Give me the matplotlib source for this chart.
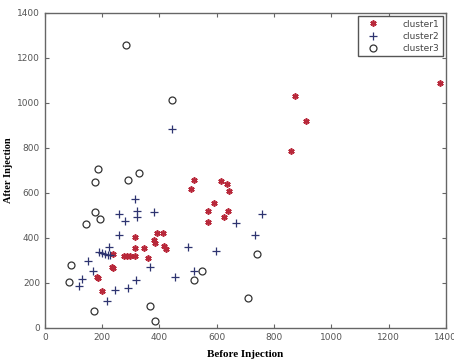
import matplotlib.pyplot as plt

# cluster 1 (red asterisks)
c1_x = [1380, 875, 911, 861, 520, 510, 616, 636, 642, 590, 570, 639, 624, 568,
        392, 414, 381, 385, 417, 423, 316, 316, 347, 359, 316, 298, 287, 277,
        239, 233, 237, 181, 184, 199]
c1_y = [1090, 1029, 918, 784, 659, 617, 651, 640, 609, 556, 520, 520, 491, 472,
        420, 420, 389, 379, 364, 349, 402, 355, 355, 312, 320, 320, 320, 320,
        327, 272, 265, 228, 221, 165]

# cluster 2 (dark plus signs)
c2_x = [442, 313, 321, 322, 381, 257, 278, 260, 225, 190, 199, 210, 219, 226,
        150, 167, 129, 120, 216, 246, 289, 317, 367, 454, 501, 522, 599, 668,
        757, 733]
c2_y = [884, 573, 520, 494, 514, 504, 474, 411, 361, 336, 333, 330, 326, 323,
        296, 255, 217, 187, 119, 168, 177, 214, 270, 225, 358, 255, 340, 467,
        504, 411]

# cluster 3 (open circles)
c3_x = [283, 444, 186, 175, 290, 330, 176, 194, 144, 91, 84, 170, 367, 384,
        520, 547, 708, 740]
c3_y = [1256, 1012, 707, 647, 657, 688, 517, 486, 463, 280, 202, 74, 96, 32,
        214, 253, 131, 327]

fig = plt.figure(figsize=(4.54, 3.64), dpi=100)
ax = fig.add_axes([0.099, 0.099, 0.883, 0.866])

ax.plot(c1_x, c1_y, linestyle='none', marker=(6, 2, 0), color='#b8283a',
        markersize=4.5, markeredgewidth=1.2, label='cluster1')
ax.plot(c2_x, c2_y, linestyle='none', marker='+', color='#2e3470',
        markersize=5.5, markeredgewidth=0.9, label='cluster2')
ax.plot(c3_x, c3_y, linestyle='none', marker='o', markerfacecolor='none',
        markeredgecolor='#333333', markersize=5, markeredgewidth=0.9,
        label='cluster3')

ax.set_xlim(0, 1400)
ax.set_ylim(0, 1400)
ax.set_xticks(range(0, 1401, 200))
ax.set_yticks(range(0, 1401, 200))
ax.tick_params(direction='in', top=True, right=True, length=3, width=0.8,
               labelsize=6.5, labelcolor='#555555', color='#666666')
for s in ax.spines.values():
    s.set_color('#666666')
    s.set_linewidth(1.0)

ax.set_xlabel('Before Injection', family='Liberation Serif', fontweight='bold',
              fontsize=8, labelpad=6)
ax.set_ylabel('After Injection', family='Liberation Serif', fontweight='bold',
              fontsize=7.5, labelpad=3)

leg = ax.legend(loc='upper right', fontsize=6.5, fancybox=False,
                edgecolor='#555555', framealpha=1, borderaxespad=0.35,
                handlelength=2.5, handletextpad=2.0, labelspacing=0.35)
for t in leg.get_texts():
    t.set_color('#444444')

fig.savefig('out.png', dpi=100)
